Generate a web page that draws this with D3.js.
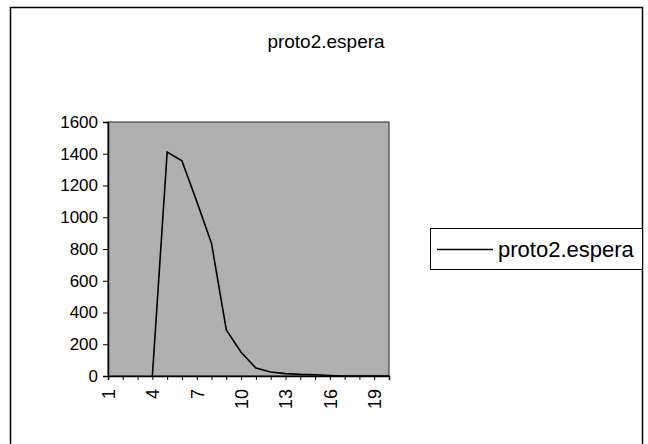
<!DOCTYPE html>
<html>
<head>
<meta charset="utf-8">
<script src="https://cdn.jsdelivr.net/npm/d3@7"></script>
<style>
  body { margin: 0; background: #fff; }
  text { font-family: "Liberation Sans", Arial, sans-serif; fill: #000; }
</style>
</head>
<body>
<div id="chart"></div>
<script>
// data
var categories = [1, 2, 3, 4, 5, 6, 7, 8, 9, 10, 11, 12, 13, 14, 15, 16, 17, 18, 19, 20];
var esperaValues = [0, 0, 0, 0, 1410, 1355, 1100, 835, 290, 150, 50, 25, 15, 10, 8, 3, 0, 0, 0, 0];
var yTicks = [0, 200, 400, 600, 800, 1000, 1200, 1400, 1600];
var xLabels = [1, 4, 7, 10, 13, 16, 19];
var seriesName = "proto2.espera";

var W = 648, H = 444;
var margin = { top: 122, left: 108 },
    width = 389 - 108,
    height = 376 - 122;

var svg = d3.select("#chart")
    .append("svg")
    .attr("width", W)
    .attr("height", H);

// outer frame
svg.append("rect")
    .attr("x", 10.5).attr("y", 7.5)
    .attr("width", 632).attr("height", 460)
    .attr("fill", "none").attr("stroke", "#000").attr("stroke-width", 1.5);

// title
svg.append("text")
    .attr("x", 326).attr("y", 48)
    .attr("text-anchor", "middle")
    .style("font-size", "19px")
    .text(seriesName);

var g = svg.append("g")
    .attr("transform", "translate(" + margin.left + "," + margin.top + ")");

var x = d3.scalePoint()
    .domain(categories)
    .range([0, width]);

var y = d3.scaleLinear()
    .domain([0, 1600])
    .range([height, 0]);

// plot area
g.append("rect")
    .attr("width", width).attr("height", height)
    .attr("fill", "#b0b0b0")
    .attr("stroke", "#222").attr("stroke-width", 1);

// Y axis
var yAxis = g.append("g")
    .call(d3.axisLeft(y).tickValues(yTicks).tickFormat(d3.format("d")).tickSize(5).tickPadding(5));
yAxis.select(".domain").attr("stroke-width", 1.5);
yAxis.selectAll("text").style("font-size", "17px");

// X axis
var xAxis = g.append("g")
    .attr("transform", "translate(0," + height + ")")
    .call(d3.axisBottom(x).tickSize(4).tickFormat(function (d) {
        return xLabels.indexOf(d) >= 0 ? d : "";
    }));
xAxis.select(".domain").attr("stroke-width", 1.5);
xAxis.selectAll("text")
    .style("font-size", "18px")
    .attr("transform", "rotate(-90)")
    .attr("text-anchor", "end")
    .attr("dy", "0.35em")
    .attr("x", -13)
    .attr("y", 0);

// line
g.append("path")
    .datum(esperaValues.slice(3))
    .attr("fill", "none")
    .attr("stroke", "#000")
    .attr("stroke-width", 1.6)
    .attr("d", d3.line()
        .x(function (d, i) { return x(categories[i + 3]); })
        .y(function (d) { return y(d); }));

// legend
var legend = svg.append("g");
legend.append("rect")
    .attr("x", 430.5).attr("y", 228.5)
    .attr("width", 212).attr("height", 41)
    .attr("fill", "#fff").attr("stroke", "#000");
legend.append("line")
    .attr("x1", 437).attr("x2", 493)
    .attr("y1", 249.5).attr("y2", 249.5)
    .attr("stroke", "#000").attr("stroke-width", 1.6);
legend.append("text")
    .attr("x", 498).attr("y", 257)
    .style("font-size", "22px")
    .text(seriesName);
</script>
</body>
</html>
